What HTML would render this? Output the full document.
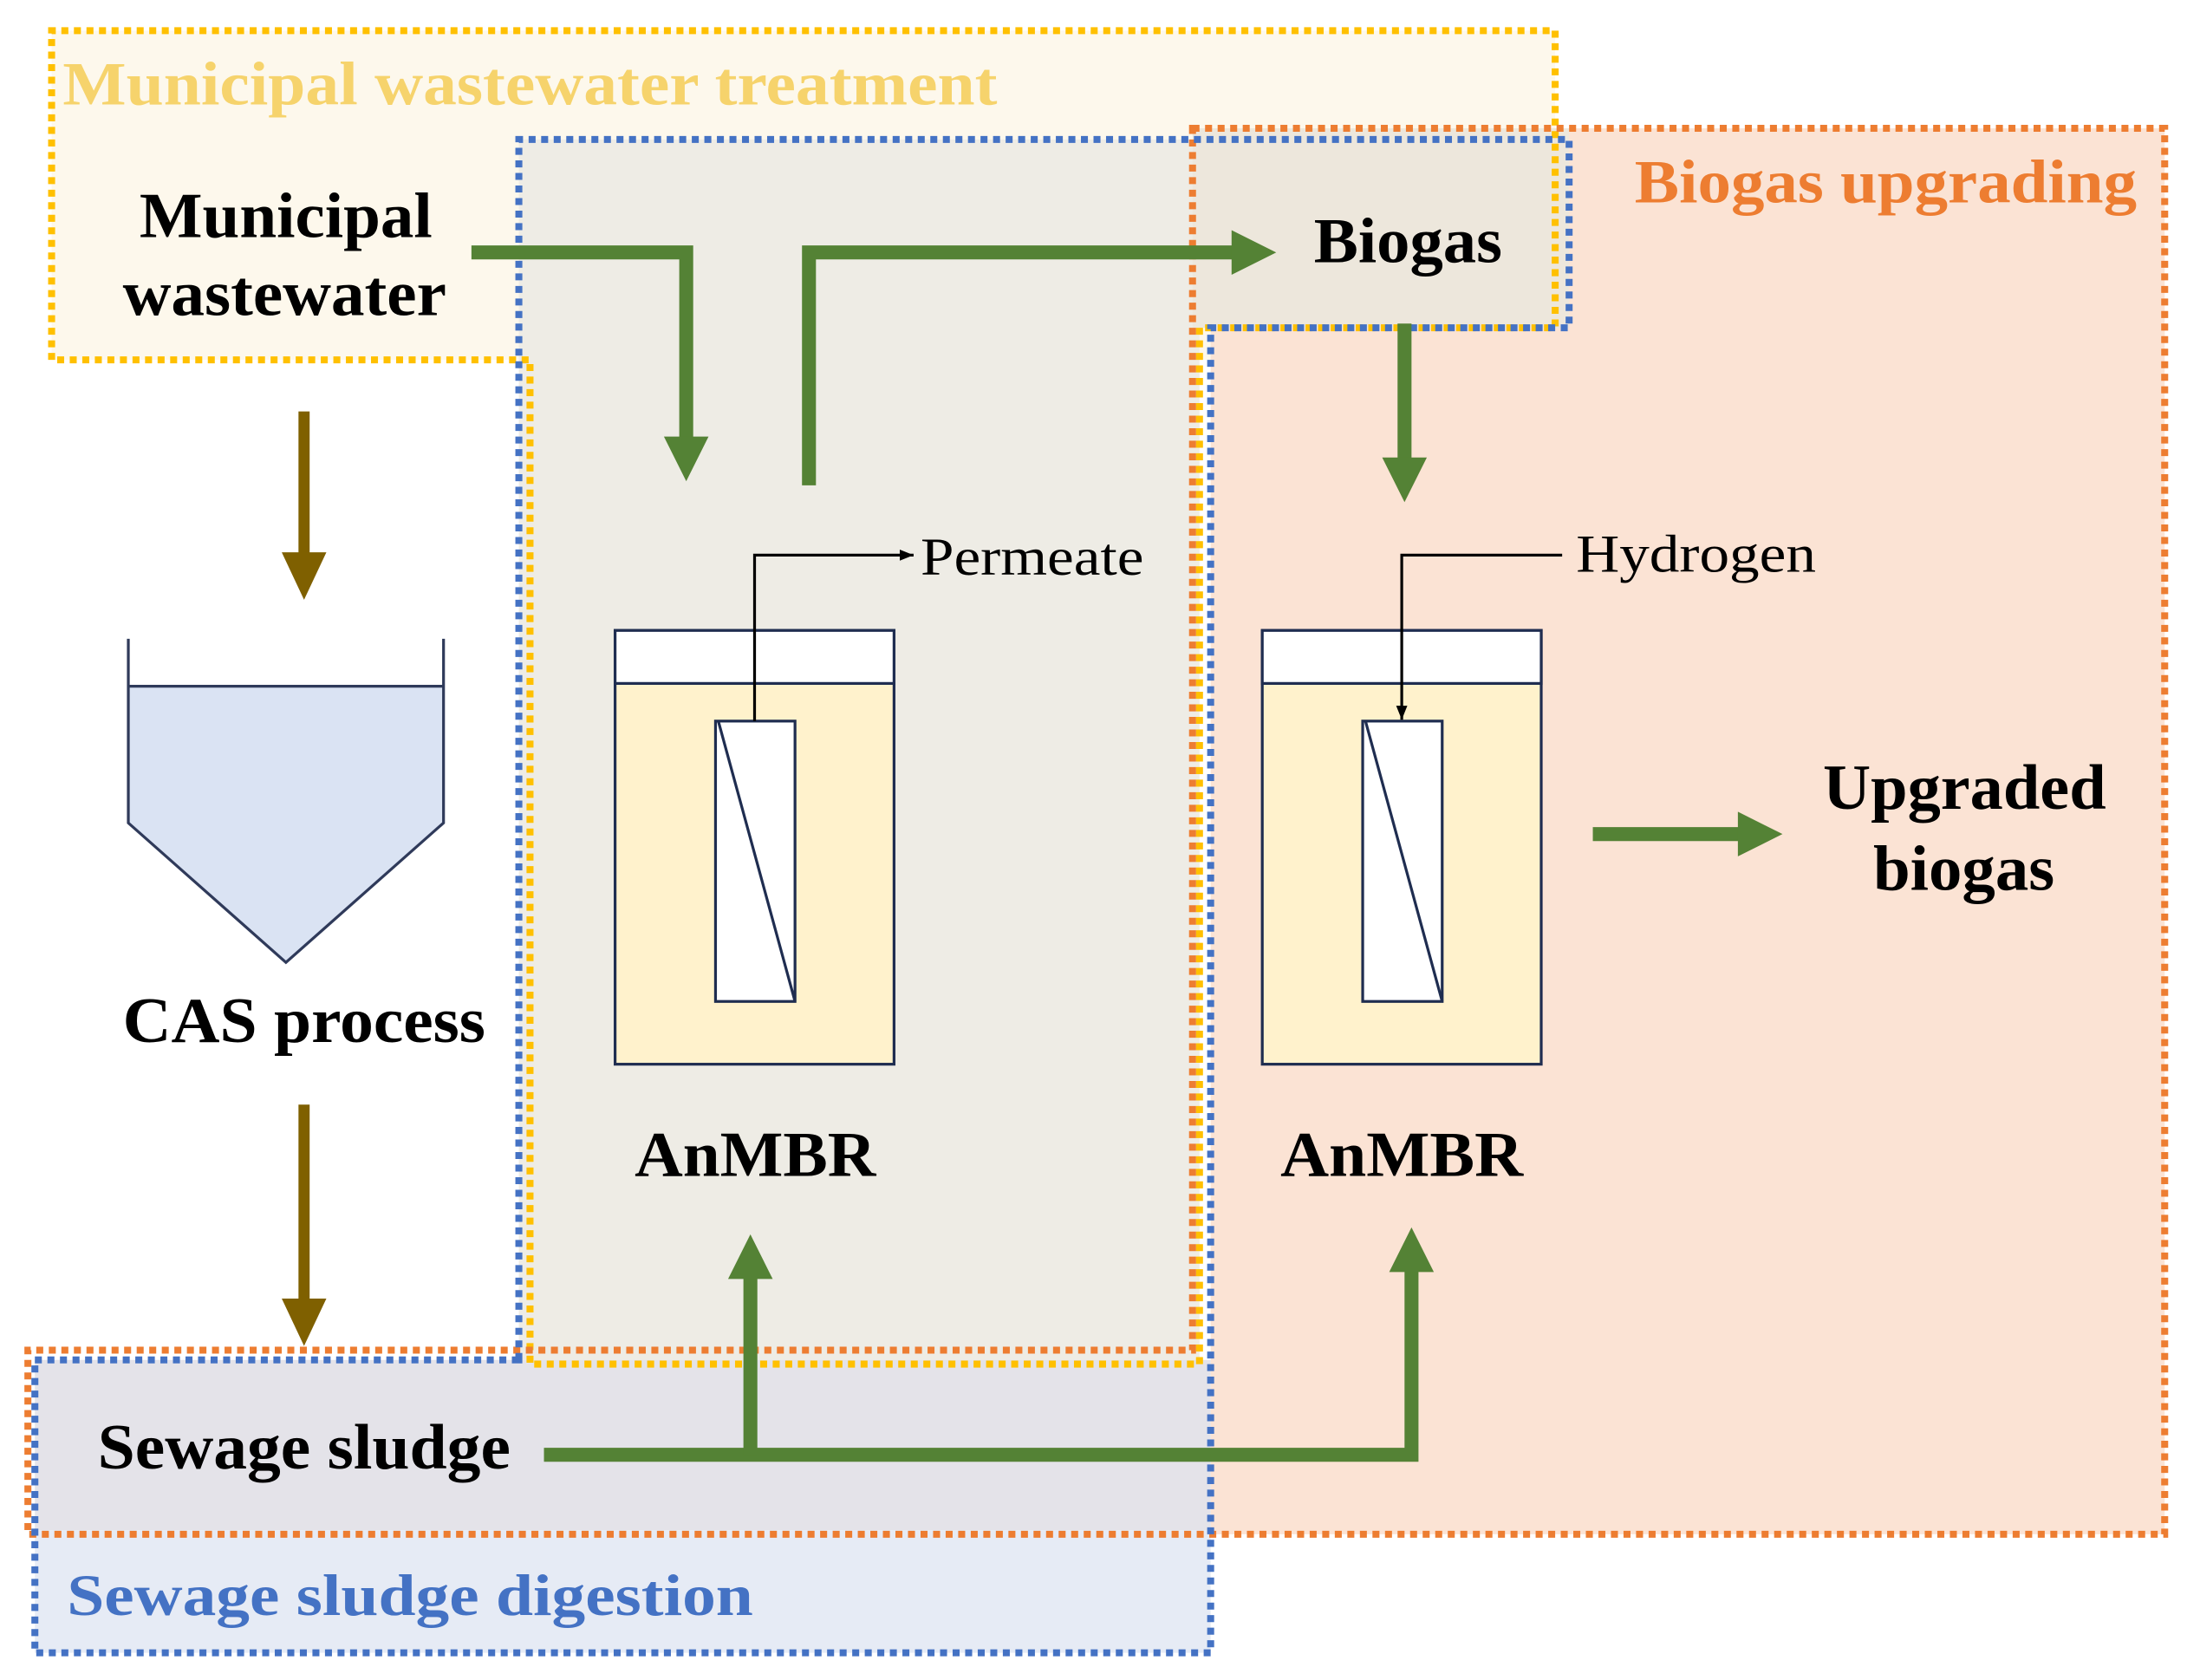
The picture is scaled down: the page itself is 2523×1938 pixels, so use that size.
<!DOCTYPE html>
<html><head><meta charset="utf-8"><style>
html,body{margin:0;padding:0;background:#fff;}
svg{display:block;}
text{font-family:"Liberation Serif",serif;}
</style></head><body>
<svg width="2523" height="1938" viewBox="0 0 1568 1204.5" preserveAspectRatio="none" xmlns="http://www.w3.org/2000/svg">
<defs>
<marker id="k" markerWidth="10" markerHeight="8" refX="10" refY="4" orient="auto" markerUnits="userSpaceOnUse"><path d="M0,0 L10,4 L0,8 Z" fill="#000"/></marker>
</defs>
<!-- fills -->
<rect x="37" y="22" width="1078" height="236" fill="#fdf8ec"/>
<rect x="380" y="258" width="480" height="720" fill="#fdf8ec"/>
<rect x="372" y="100" width="488" height="875" fill="#eeece5"/>
<rect x="868" y="235" width="684" height="865" fill="#fbe3d4"/>
<rect x="1115" y="92" width="437" height="150" fill="#fbe3d4"/>
<rect x="855" y="92" width="270" height="143" fill="#ede7dc"/>
<rect x="25" y="975" width="843" height="122" fill="#e4e3e9"/>
<rect x="25" y="1097" width="843" height="88" fill="#e6ebf5"/>
<!-- dotted borders -->
<g fill="none" stroke-width="5" stroke-dasharray="5 4">
<path d="M37,258 L37,22 L1115,22 L1115,235 L860,235 L860,978 L380,978 L380,258 Z" stroke="#ffc000"/>
<path d="M855,92 L1552,92 L1552,1100 L20,1100 L20,968 L855,968 Z" stroke="#ed7d31"/>
<path d="M372,975 L372,100 L1125,100 L1125,235 L868,235 L868,1185 L25,1185 L25,975 Z" stroke="#4472c4"/>
</g>
<!-- labels -->
<text x="45" y="75" font-size="44" font-weight="bold" fill="#f6d36c" textLength="670" lengthAdjust="spacingAndGlyphs">Municipal wastewater treatment</text>
<text x="1172" y="145" font-size="44" font-weight="bold" fill="#ed7d31" textLength="360" lengthAdjust="spacingAndGlyphs">Biogas upgrading</text>
<text x="48" y="1158" font-size="42" font-weight="bold" fill="#4472c4" textLength="492" lengthAdjust="spacingAndGlyphs">Sewage sludge digestion</text>
<g font-size="46" font-weight="bold" fill="#000">
<text x="100" y="170" textLength="210" lengthAdjust="spacingAndGlyphs">Municipal</text>
<text x="88" y="226" textLength="232" lengthAdjust="spacingAndGlyphs">wastewater</text>
<text x="942" y="188" textLength="135" lengthAdjust="spacingAndGlyphs">Biogas</text>
<text x="88" y="747" textLength="260" lengthAdjust="spacingAndGlyphs">CAS process</text>
<text x="455" y="843" textLength="173" lengthAdjust="spacingAndGlyphs">AnMBR</text>
<text x="918" y="843" textLength="174" lengthAdjust="spacingAndGlyphs">AnMBR</text>
<text x="1307" y="580" textLength="203" lengthAdjust="spacingAndGlyphs">Upgraded</text>
<text x="1343" y="638" textLength="130" lengthAdjust="spacingAndGlyphs">biogas</text>
<text x="70" y="1053" textLength="296" lengthAdjust="spacingAndGlyphs">Sewage sludge</text>
</g>
<text x="660" y="412" font-size="38" textLength="160" lengthAdjust="spacingAndGlyphs">Permeate</text>
<text x="1130" y="410" font-size="38" textLength="172" lengthAdjust="spacingAndGlyphs">Hydrogen</text>
<!-- green arrows -->
<g fill="none" stroke="#548235" stroke-width="10">
<path d="M338,181 L492,181 L492,315"/>
<path d="M580,348 L580,181 L885,181"/>
<path d="M1007,232 L1007,330"/>
<path d="M1142,598 L1248,598"/>
<path d="M390,1043 L1012,1043 L1012,910"/>
<path d="M538,1043 L538,915"/>
</g>
<g fill="#548235">
<polygon points="476,313 508,313 492,345"/>
<polygon points="883,165 883,197 915,181"/>
<polygon points="991,328 1023,328 1007,360"/>
<polygon points="1246,582 1246,614 1278,598"/>
<polygon points="996,912 1028,912 1012,880"/>
<polygon points="522,917 554,917 538,885"/>
</g>
<!-- brown arrows -->
<g stroke="#7f6000" stroke-width="8" fill="none">
<path d="M218,295 L218,398"/>
<path d="M218,792 L218,933"/>
</g>
<g fill="#7f6000">
<polygon points="202,396 234,396 218,430"/>
<polygon points="202,931 234,931 218,965"/>
</g>
<!-- CAS tank -->
<path d="M92,492 L318,492 L318,590 L205,690 L92,590 Z" fill="#dae3f3"/>
<path d="M92,458 L92,590 L205,690 L318,590 L318,458" fill="none" stroke="#2f3a5a" stroke-width="2"/>
<line x1="92" y1="492" x2="318" y2="492" stroke="#2f3a5a" stroke-width="2"/>
<!-- reactors -->
<g stroke="#1f2d50" stroke-width="2">
<rect x="441" y="452" width="200" height="311" fill="#fff2cc"/>
<rect x="441" y="452" width="200" height="38" fill="#fff"/>
<rect x="513" y="517" width="57" height="201" fill="#fff"/>
<line x1="515" y1="517" x2="570" y2="718"/>
<rect x="905" y="452" width="200" height="311" fill="#fff2cc"/>
<rect x="905" y="452" width="200" height="38" fill="#fff"/>
<rect x="977" y="517" width="57" height="201" fill="#fff"/>
<line x1="979" y1="517" x2="1034" y2="718"/>
</g>
<path d="M541,517 L541,398 L655,398" fill="none" stroke="#000" stroke-width="2" marker-end="url(#k)"/>
<path d="M1120,398 L1005,398 L1005,516" fill="none" stroke="#000" stroke-width="2" marker-end="url(#k)"/>
</svg>
</body></html>
